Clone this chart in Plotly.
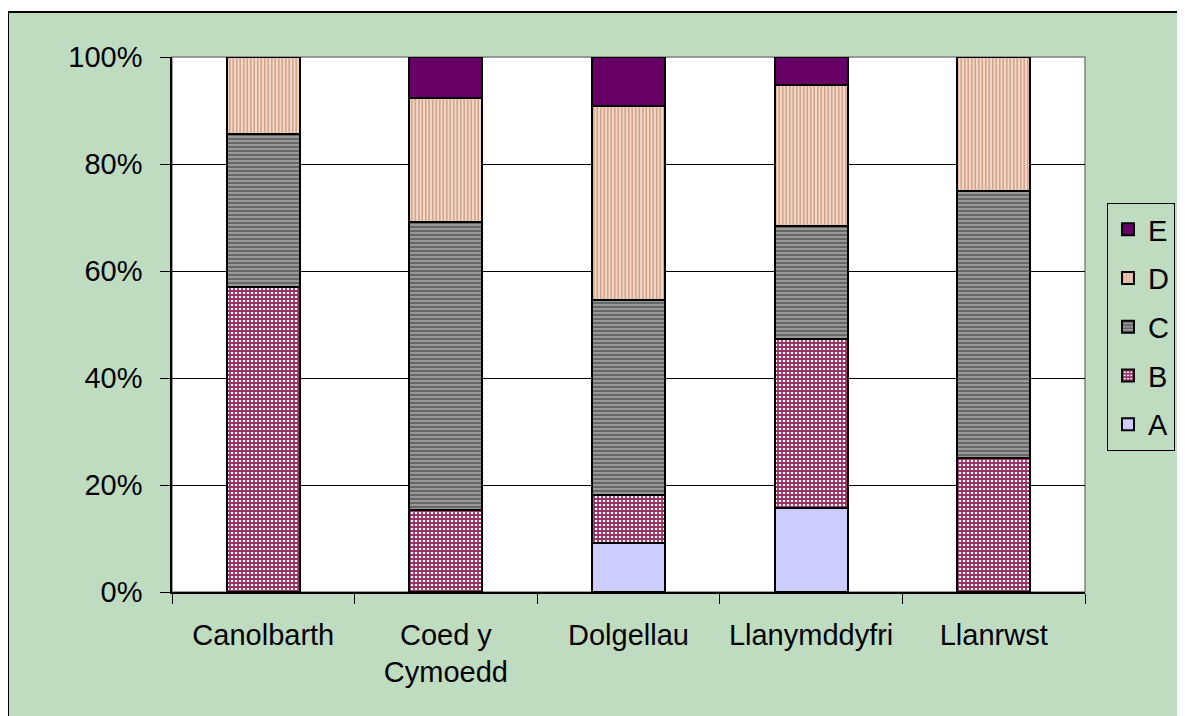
import plotly.graph_objects as go

# Categories and shares (%) per grade
categories = ["Canolbarth", "Coed y<br>Cymoedd", "Dolgellau", "Llanymddyfri", "Llanrwst"]
grade_a = [None, None, 9.1, 15.8, None]
grade_b = [57.1, 15.4, 9.1, 31.6, 25.0]
grade_c = [28.6, 53.8, 36.4, 21.1, 50.0]
grade_d = [14.3, 23.1, 36.4, 26.3, 25.0]
grade_e = [None, 7.7, 9.1, 5.3, None]
y_ticks = [0, 20, 40, 60, 80, 100]
y_tick_labels = ["0%", "20%", "40%", "60%", "80%", "100%"]

W, H = 1185, 716
ML, MR, MT, MB = 164, 108, 49, 132
PW, PH = W - ML - MR, H - MT - MB

FONT = "Liberation Sans, Arial, sans-serif"
FS = 29

series = [
    ("A", grade_a, dict(color="#CCCCFF")),
    ("B", grade_b, dict(color="#FFFFFF",
                        pattern=dict(shape="+", fgcolor="#993366", bgcolor="#FFFFFF",
                                     size=4, solidity=0.7, fillmode="replace"))),
    ("C", grade_c, dict(color="#808080",
                        pattern=dict(shape="-", fgcolor="#666666", bgcolor="#999999",
                                     size=4, solidity=0.5, fillmode="replace"))),
    ("D", grade_d, dict(color="#FFFFFF",
                        pattern=dict(shape="|", fgcolor="#D6A68A", bgcolor="#FBEFE8",
                                     size=3.5, solidity=0.65, fillmode="replace"))),
    ("E", grade_e, dict(color="#660066")),
]

fig = go.Figure()
for i, (name, vals, marker) in enumerate(series):
    marker["line"] = dict(color="#000000", width=2)
    fig.add_trace(go.Bar(x=categories, y=vals, name=name, marker=marker,
                         legendgroup=name, legendrank=len(series) - i))

# green chart frame and white plot area
fig.add_shape(type="rect", xref="paper", yref="paper",
              x0=(0 - ML) / PW, x1=2, y0=-1, y1=(PH + MT - 4) / PH,
              fillcolor="#C0DCC0", line=dict(color="#000000", width=2), layer="below")
fig.add_shape(type="rect", xref="paper", yref="paper", x0=0, x1=1, y0=0, y1=1,
              fillcolor="#FFFFFF", line=dict(color="#808080", width=1.5), layer="below")

fig.update_layout(
    width=W, height=H,
    margin=dict(l=ML, r=MR, t=MT, b=MB, pad=0),
    paper_bgcolor="#FFFFFF",
    plot_bgcolor="#FFFFFF",
    barmode="stack",
    barnorm="percent",
    bargap=0.6,
    font=dict(family=FONT, size=FS, color="#000000"),
    showlegend=True,
    legend=dict(
        x=(1099 - ML) / PW, xanchor="left",
        y=(PH + MT - 195) / PH, yanchor="top",
        traceorder="grouped",
        tracegroupgap=8,
        bordercolor="#000000", borderwidth=1,
        bgcolor="rgba(0,0,0,0)",
        font=dict(family=FONT, size=FS),
    ),
    xaxis=dict(
        showline=True, linecolor="#000000", linewidth=1.5,
        ticks="outside", tickson="boundaries", ticklen=10, tickcolor="#000000",
        showgrid=False, ticklabelstandoff=16,
    ),
    yaxis=dict(
        range=[0, 100], tickmode="array", tickvals=y_ticks, ticktext=y_tick_labels,
        showline=True, linecolor="#000000", linewidth=1.5,
        ticks="outside", ticklen=10, tickcolor="#000000",
        showgrid=True, gridcolor="#000000", gridwidth=1,
        zeroline=False, ticklabelstandoff=12,
    ),
)

fig.write_html("out.html")
